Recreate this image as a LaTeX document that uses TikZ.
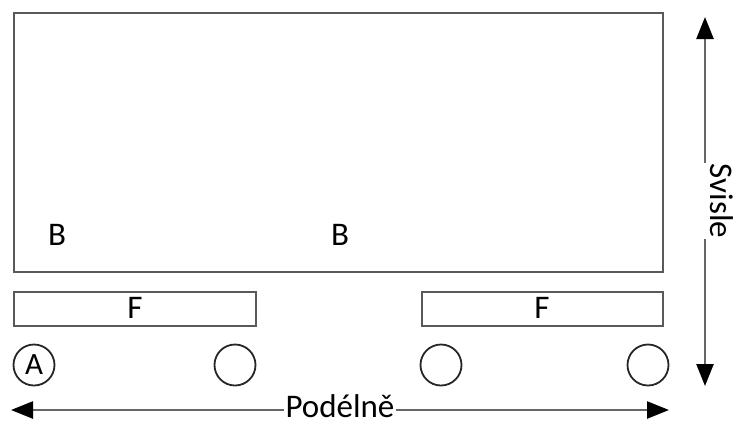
\documentclass[tikz,border=0pt]{standalone}
\usepackage{fontspec}
\setmainfont{Carlito}
\usetikzlibrary{arrows.meta}

\begin{document}
\begin{tikzpicture}[
  x=1pt, y=-1pt,
  frame/.style={draw=black!65, line width=2pt},
  wheel/.style={circle, draw=black!85, line width=1.8pt, minimum size=41pt, inner sep=0pt, font=\fontsize{31}{33}\selectfont},
  dim/.style={draw=black!60, line width=2.5pt},
  bigtip/.tip={Triangle[length=22pt,width=17pt,color=black]},
  lbl/.style={font=\fontsize{33}{35}\selectfont}
]
\useasboundingbox (0,0) rectangle (737,424);

% body and frames
\draw [frame] (14,13) rectangle (663,272);
\draw [frame] (14,292) rectangle (256,326);
\draw [frame] (422,292) rectangle (663,326);
\node [lbl] (b1) at (57,235) {B};
\node [lbl] (b2) at (340,235) {B};
\node [lbl] (f1) at (135,308) {F};
\node [lbl] (f2) at (542,308) {F};

% wheels
\node [wheel] (w1) at (34,365) {A};
\node [wheel] (w2) at (235,365) {};
\node [wheel] (w3) at (441,365) {};
\node [wheel] (w4) at (648,365) {};

% directions
\coordinate (xl) at (11,410);
\coordinate (xr) at (669,410);
\coordinate (yt) at (705,17);
\coordinate (yb) at (705,386);
\node [lbl, anchor=base, inner sep=1pt] (lon) at (340,417) {Podélně};
\node [lbl, anchor=base, inner sep=1pt, rotate=-90] (ver) at (710,201) {Svisle};
\draw [dim, {bigtip}-] (xl) -- (xl -| lon.west);
\draw [dim, -{bigtip}] (xr -| lon.east) -- (xr);
\draw [dim, {bigtip}-] (yt) -- (yt |- ver.west);
\draw [dim, -{bigtip}] (yb |- ver.east) -- (yb);

\end{tikzpicture}
\end{document}
